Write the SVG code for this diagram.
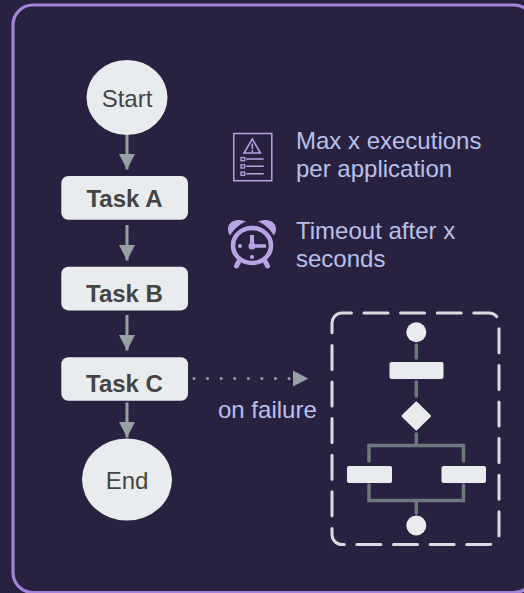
<svg xmlns="http://www.w3.org/2000/svg" width="524" height="593" viewBox="0 0 524 593">
<style>
text{font-family:"Liberation Sans",Arial,sans-serif}
.n{fill:#e9ecee}
.t{font-size:24px;fill:#444;text-anchor:middle}
.b{font-weight:bold}
.l{font-size:24px;fill:#b9c0ec}
.c{stroke:#95a1a3;stroke-width:3;fill:none}
.m{stroke:#6c7a7c;stroke-width:3.500;fill:none;stroke-linecap:round}
.i{stroke:#b9a3e4;fill:none}
</style>
<defs><marker id="a" markerUnits="userSpaceOnUse" markerWidth="16" markerHeight="16" refX="15.500" refY="8" orient="auto"><path d="M0 0L15.500 8L0 16Z" fill="#95a1a3"/></marker></defs>
<rect width="524" height="593" fill="#282240"/>
<rect x="13" y="5" width="521" height="587.500" rx="20" fill="#282240" stroke="#a582db" stroke-width="3.200"/>
<g id="connectors">
<path class="c" d="M127 135V169.500" marker-end="url(#a)"/>
<path class="c" d="M127 225V260.500" marker-end="url(#a)"/>
<path class="c" d="M127 315V350.500" marker-end="url(#a)"/>
<path class="c" d="M127 402.500V437.500" marker-end="url(#a)"/>
<path d="M194 378.500H308.300" stroke="#95a1a3" stroke-width="3" stroke-linecap="round" stroke-dasharray="0 13.570" fill="none" marker-end="url(#a)"/>
</g>
<g id="start"><ellipse class="n" cx="127" cy="97.500" rx="40.500" ry="37.500"/><text class="t" x="127" y="106.700">Start</text></g>
<g id="taskA"><rect class="n" x="61.300" y="176" width="126.700" height="43.700" rx="7"/><text class="t b" x="124.500" y="206.700">Task A</text></g>
<g id="taskB"><rect class="n" x="61.300" y="266.700" width="126.700" height="43.700" rx="7"/><text class="t b" x="124.500" y="301.700">Task B</text></g>
<g id="taskC"><rect class="n" x="61.300" y="357.300" width="126.700" height="43.500" rx="7"/><text class="t b" x="124.500" y="391.700">Task C</text></g>
<g id="end"><ellipse class="n" cx="127" cy="479.500" rx="45" ry="41"/><text class="t" x="127" y="488.700">End</text></g>
<g id="onFailure"><text class="l" x="218" y="418">on failure</text></g>
<g id="note1">
<rect class="i" x="233.800" y="133.500" width="38" height="47.200" stroke-width="1.500"/>
<path class="i" stroke-width="1.500" d="M252.300 139L260.500 153H244Z"/>
<path d="M252.300 143.500V149M252.300 150V152" stroke="#b9a3e4" stroke-width="1.500"/>
<path class="i" stroke-width="1.500" d="M246.300 159H263.700M246.300 166.300H263.700M246.300 173.700H263.700"/>
<rect class="i" stroke-width="1.300" x="241" y="157.500" width="3.700" height="3.200"/><rect class="i" stroke-width="1.300" x="241" y="164.800" width="3.700" height="3.200"/><rect class="i" stroke-width="1.300" x="241" y="172.100" width="3.700" height="3.200"/>
<text class="l"><tspan x="296" y="149">Max x executions</tspan><tspan x="296" y="177">per application</tspan></text>
</g>
<g id="note2">
<ellipse class="i" cx="252" cy="245.500" rx="19" ry="17.500" stroke-width="4.500"/>
<path fill="#b9a3e4" d="M230 235.500C224 226 232 216 246 221.500C240 224 234 229 230 235.500ZM274 235.500C280 226 272 216 258 221.500C264 224 270 229 274 235.500Z"/>
<path class="i" stroke-width="5" stroke-linecap="round" d="M238.500 262L236.500 266M265.500 262L267.500 266"/>
<path class="i" stroke-width="4" d="M252 235V248"/>
<path class="i" stroke-width="3.500" d="M250 246H266"/>
<circle cx="252" cy="246" r="3.500" fill="#b9a3e4"/>
<circle cx="240" cy="246" r="2" fill="#b9a3e4"/><circle cx="252" cy="257" r="2" fill="#b9a3e4"/>
<text class="l"><tspan x="296" y="239">Timeout after x</tspan><tspan x="296" y="267">seconds</tspan></text>
</g>
<g id="subprocess">
<rect x="332" y="313" width="167" height="231.500" rx="10" fill="none" stroke="#d9dde0" stroke-width="3" stroke-dasharray="24 12.600" stroke-dashoffset="-22" stroke-linecap="round"/>
<path class="m" d="M416.300 345V358M416.300 382V396M416.300 434V445.500M369 461V445.500H463.500V461M369 485V500.500H463.500V485M416.300 500.500V513"/>
<circle class="n" cx="416.300" cy="332.300" r="10"/>
<rect class="n" x="389.500" y="362" width="54" height="17" rx="2"/>
<path class="n" stroke="#e9ecee" stroke-width="2" stroke-linejoin="round" d="M416.300 402.500L430 416L416.300 429.500L402.500 416Z"/>
<rect class="n" x="347" y="466" width="45" height="17" rx="2"/>
<rect class="n" x="441.500" y="466" width="44.500" height="17" rx="2"/>
<circle class="n" cx="416.300" cy="525.500" r="10"/>
</g>
</svg>
